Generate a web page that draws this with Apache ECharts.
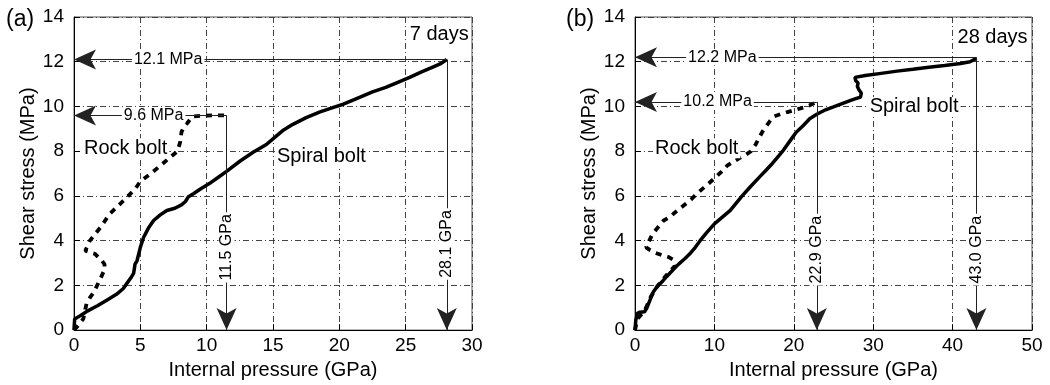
<!DOCTYPE html>
<html>
<head>
<meta charset="utf-8">
<script src="https://cdn.jsdelivr.net/npm/echarts@6/dist/echarts.min.js"></script>
<style>html,body{margin:0;background:#fff}#main{width:1050px;height:385px}</style>
</head>
<body>
<div id="main"></div>
<script>
// (a) 7 days
const spiral7X = [0, 0.05, 0.5, 1.0, 1.8, 2.5, 3.2, 3.7, 4.0, 4.3, 4.5, 4.6, 4.75, 5.0, 5.25, 5.6, 6.0, 6.5, 7.0, 7.6, 8.1, 8.4, 8.6, 9.0, 9.5, 10.2, 10.8, 11.5, 12.5, 13.5, 14.5, 15.0, 15.8, 16.5, 17.5, 18.5, 19.5, 20.3, 21.3, 22.5, 23.5, 24.5, 25.3, 26.2, 27.0, 27.6, 28.1]
const spiral7Y = [0, 0.5, 0.65, 0.85, 1.1, 1.35, 1.6, 1.85, 2.1, 2.35, 2.55, 2.95, 3.1, 3.7, 4.15, 4.55, 4.9, 5.15, 5.35, 5.45, 5.6, 5.75, 5.95, 6.1, 6.3, 6.55, 6.8, 7.1, 7.55, 7.95, 8.3, 8.55, 8.95, 9.2, 9.5, 9.75, 9.95, 10.1, 10.35, 10.65, 10.85, 11.1, 11.3, 11.55, 11.75, 11.9, 12.1]
const rock7X = [0, 0.3, 0.7, 0.95, 1.2, 1.5, 1.95, 2.3, 2.3, 2.1, 1.6, 0.85, 1.2, 1.6, 2.0, 2.7, 3.4, 4.0, 4.6, 5.0, 5.8, 6.7, 7.3, 7.8, 8.0, 8.1, 8.3, 8.6, 8.9, 9.5, 10.5, 11.5]
const rock7Y = [0, 0.2, 0.5, 1.2, 1.45, 1.7, 2.25, 2.7, 2.95, 3.1, 3.4, 3.55, 4.0, 4.3, 4.6, 5.2, 5.6, 5.95, 6.3, 6.65, 7.0, 7.45, 7.75, 8.0, 8.4, 8.85, 9.1, 9.3, 9.55, 9.58, 9.6, 9.6]
const peak7Stress = [12.1, 9.6]
const peak7Pressure = [28.1, 11.5]
const mpaLabel7At = [7.1, 6.0]      // pressure where the MPa text sits
const gpaLabel7At = [3.85, 3.7]     // stress where the GPa text sits

// (b) 28 days
const spiral28X = [0, 0.1, 0.3, 0.6, 1.2, 1.5, 1.9, 2.3, 2.8, 3.5, 4.0, 4.8, 5.5, 6.3, 7.0, 7.6, 8.2, 9.0, 10.0, 11.0, 12.0, 12.8, 13.5, 14.5, 15.7, 16.5, 17.3, 18.0, 18.7, 19.5, 20.3, 21.2, 22.0, 22.9, 24.0, 25.0, 26.0, 27.0, 27.8, 28.4, 28.5, 28.2, 28.0, 28.1, 27.8, 27.7, 29.0, 31.0, 33.0, 35.0, 37.0, 39.0, 41.0, 42.2, 43.0]
const spiral28Y = [0, 0.45, 0.75, 0.8, 0.82, 1.0, 1.35, 1.7, 1.95, 2.2, 2.4, 2.7, 2.95, 3.2, 3.45, 3.7, 4.0, 4.35, 4.75, 5.05, 5.35, 5.7, 6.0, 6.4, 6.85, 7.15, 7.45, 7.75, 8.05, 8.45, 8.85, 9.15, 9.45, 9.65, 9.85, 9.98, 10.12, 10.25, 10.35, 10.42, 10.6, 10.75, 10.9, 11.05, 11.15, 11.3, 11.38, 11.48, 11.58, 11.66, 11.75, 11.83, 11.92, 12.0, 12.15]
const rock28X = [0, 0.3, 1.2, 2.0, 2.8, 3.6, 4.3, 5.0, 4.8, 4.2, 3.4, 2.6, 1.8, 1.4, 1.8, 2.2, 2.9, 3.6, 4.4, 5.0, 5.7, 6.4, 7.1, 7.8, 8.6, 9.9, 10.8, 11.6, 12.5, 13.2, 14.0, 14.6, 15.2, 15.7, 16.1, 16.5, 17.0, 17.5, 18.3, 19.2, 20.2, 21.2, 22.0, 22.9]
const rock28Y = [0, 0.5, 0.85, 1.5, 1.95, 2.3, 2.6, 2.85, 3.15, 3.27, 3.35, 3.45, 3.6, 3.7, 4.0, 4.3, 4.6, 4.9, 5.05, 5.25, 5.45, 5.65, 5.85, 6.1, 6.35, 6.75, 7.05, 7.35, 7.55, 7.7, 7.85, 8.0, 8.3, 8.65, 8.9, 9.1, 9.35, 9.55, 9.65, 9.75, 9.85, 9.95, 10.05, 10.2]
const peak28Stress = [12.2, 10.2]
const peak28Pressure = [43.0, 22.9]
const mpaLabel28At = [11.0, 10.4]
const gpaLabel28At = [3.6, 3.6]

// curve names and where they are written
const notes7 = ['Rock bolt', 'Spiral bolt', '7 days']
const notes7At = [[0.6, 8.13], [15.15, 7.77], [29.9, 13.2]]
const notes28 = ['Rock bolt', 'Spiral bolt', '28 days']
const notes28At = [[2.27, 8.13], [29.3, 9.98], [49.7, 13.1]]

const font = 'Liberation Sans, Arial, Helvetica, sans-serif'
const pairs = (xs, ys) => xs.map((x, i) => [x, ys[i]])

function arrows(stress, pressure) {
  let d = []
  stress.forEach((s, i) => {
    d.push([{coord: [pressure[i], s]}, {coord: [0, s]}])
    d.push([{coord: [pressure[i], s]}, {coord: [pressure[i], 0]}])
  })
  return d
}

function peakTexts(stress, pressure, mpaAt, gpaAt) {
  let d = []
  stress.forEach((s, i) => {
    d.push({name: s.toFixed(1) + ' MPa', value: [mpaAt[i], s]})
    d.push({name: pressure[i].toFixed(1) + ' GPa', value: [pressure[i], gpaAt[i]], label: {rotate: 90}})
  })
  return d
}

function panel(i, spiral, rock, stress, pressure, mpaAt, gpaAt, notes, notesAt) {
  return [
    {
      type: 'line', xAxisIndex: i, yAxisIndex: i, data: spiral, showSymbol: false, clip: false, z: 3,
      lineStyle: {color: '#000', width: 3.5}, animation: false,
      markLine: {
        silent: true, animation: false, symbol: ['none', 'arrow'], symbolSize: [15, 22],
        label: {show: false}, lineStyle: {color: '#222', width: 1, type: 'solid'},
        itemStyle: {color: '#000'},
        data: arrows(stress, pressure)
      }
    },
    {
      type: 'line', xAxisIndex: i, yAxisIndex: i, data: rock, showSymbol: false, clip: false, z: 3,
      lineStyle: {color: '#000', width: 3.8, type: [6, 6]}, animation: false
    },
    {
      type: 'scatter', xAxisIndex: i, yAxisIndex: i, symbolSize: 0, z: 6, animation: false,
      itemStyle: {opacity: 1},
      data: peakTexts(stress, pressure, mpaAt, gpaAt),
      label: {show: true, position: 'inside', formatter: '{b}', color: '#000', fontSize: 16, fontFamily: font,
        opacity: 1, textBorderWidth: 0, backgroundColor: '#fff', padding: [0, 2]}
    },
    {
      type: 'scatter', xAxisIndex: i, yAxisIndex: i, symbolSize: 0, z: 6, animation: false,
      itemStyle: {opacity: 1},
      data: notes.map((n, k) => ({
        name: n, value: notesAt[k],
        label: {align: k === 2 ? 'right' : 'left'}
      })),
      label: {show: true, position: [0, 0], verticalAlign: 'middle', formatter: '{b}', color: '#000', fontSize: 20,
        fontFamily: font, opacity: 1, textBorderWidth: 0, backgroundColor: '#fff', padding: [0, 2]}
    }
  ]
}

function xAx(i, max, interval) {
  return {
    type: 'value', gridIndex: i, min: 0, max: max, interval: interval,
    name: 'Internal pressure (GPa)', nameLocation: 'middle', nameGap: 27,
    nameTextStyle: {fontSize: 20, color: '#000', fontFamily: font},
    axisLine: {show: true, lineStyle: {color: '#000', width: 1}},
    axisTick: {show: true, inside: true, length: 6, lineStyle: {color: '#000'}},
    axisLabel: {fontSize: 19, color: '#000', margin: 6, fontFamily: font},
    splitLine: {show: true, lineStyle: {color: '#444', width: 1, type: [6, 3, 1, 3]}}
  }
}

function yAx(i) {
  return {
    type: 'value', gridIndex: i, min: 0, max: 14, interval: 2,
    name: 'Shear stress (MPa)', nameLocation: 'middle', nameGap: 36,
    nameTextStyle: {fontSize: 20, color: '#000', fontFamily: font},
    axisLine: {show: true, lineStyle: {color: '#000', width: 1}},
    axisTick: {show: true, inside: true, length: 6, lineStyle: {color: '#000'}},
    axisLabel: {fontSize: 19, color: '#000', margin: 10, fontFamily: font},
    splitLine: {show: true, lineStyle: {color: '#444', width: 1, type: [6, 3, 1, 3]}}
  }
}

var chart = echarts.init(document.getElementById('main'), null, {renderer: 'canvas'})

let option = {
  animation: false,
  backgroundColor: '#fff',
  title: [
    {text: '(a)', left: 6, top: 8, padding: 0, textStyle: {fontSize: 23, fontWeight: 'normal', color: '#000', fontFamily: font}},
    {text: '(b)', left: 566, top: 8, padding: 0, textStyle: {fontSize: 23, fontWeight: 'normal', color: '#000', fontFamily: font}}
  ],
  grid: [
    {left: 74, right: 578, top: 17, bottom: 51, show: true, borderColor: '#555', borderWidth: 1},
    {left: 635, right: 18, top: 17, bottom: 51, show: true, borderColor: '#555', borderWidth: 1}
  ],
  xAxis: [xAx(0, 30, 5), xAx(1, 50, 10)],
  yAxis: [yAx(0), yAx(1)],
  series: [
    ...panel(0, pairs(spiral7X, spiral7Y), pairs(rock7X, rock7Y), peak7Stress, peak7Pressure, mpaLabel7At, gpaLabel7At, notes7, notes7At),
    ...panel(1, pairs(spiral28X, spiral28Y), pairs(rock28X, rock28Y), peak28Stress, peak28Pressure, mpaLabel28At, gpaLabel28At, notes28, notes28At)
  ]
}

chart.setOption(option)
</script>
</body>
</html>
